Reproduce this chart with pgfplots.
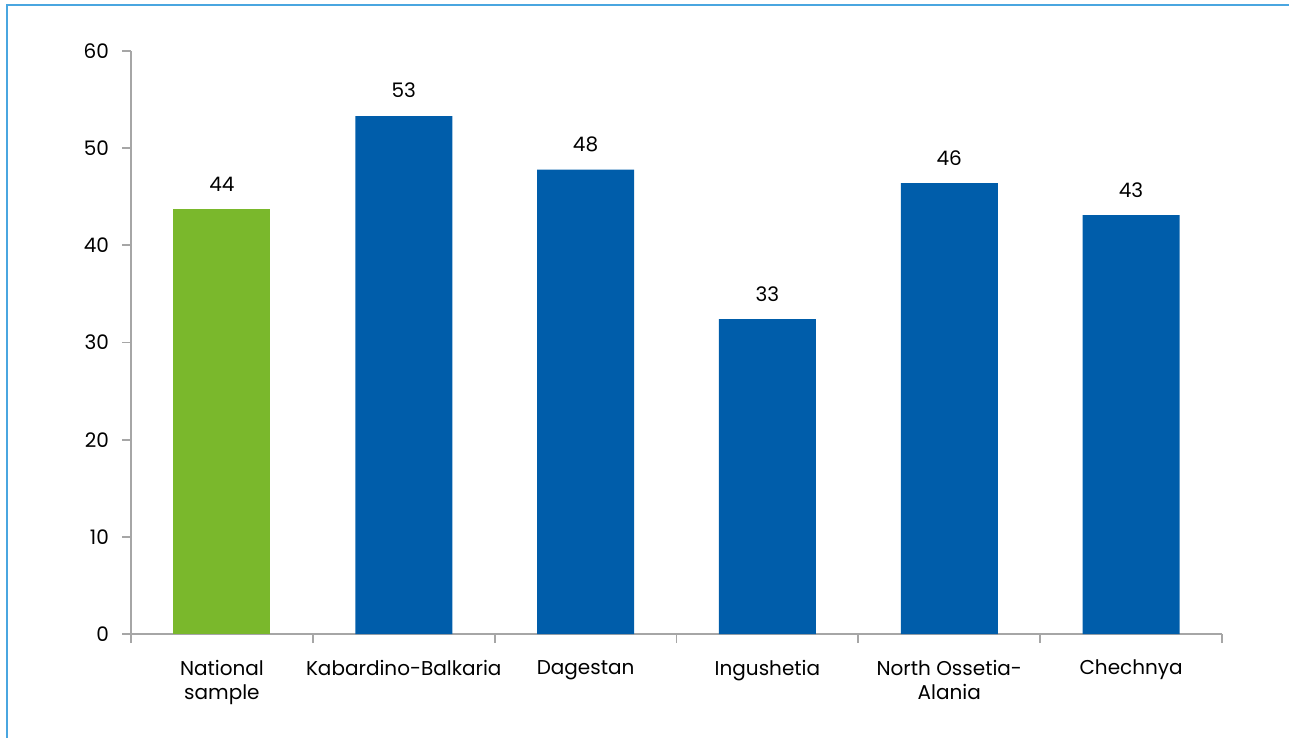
\documentclass[border=0pt]{standalone}
\usepackage{pgfplots}
\pgfplotsset{compat=1.18}
\usepackage{fontspec}
\setmainfont{Poppins}
\definecolor{bargreen}{HTML}{7AB82C}
\definecolor{barblue}{HTML}{005DAA}
\definecolor{framec}{HTML}{4AA6E0}
\definecolor{axgray}{HTML}{A6A6A6}
\begin{document}
\begin{tikzpicture}
\useasboundingbox (0,0) rectangle (644.5pt,369pt);
\draw[framec, line width=1.2pt] (3.5pt,0) -- (3.5pt,366.5pt) -- (644.5pt,366.5pt);
\begin{axis}[
  at={(65.5pt,52pt)}, anchor=south west,
  scale only axis, width=545.5pt, height=291.5pt,
  xmin=-0.5, xmax=5.5, ymin=0, ymax=60,
  ytick={0,10,...,60},
  xtick={0,1,2,3,4,5},
  xticklabels={National\\sample, Kabardino-Balkaria, Dagestan, Ingushetia, North Ossetia-\\Alania, Chechnya},
  minor xtick={-0.5,0.5,...,5.5},
  axis x line*=bottom, axis y line*=left,
  axis line style={axgray, line width=0.9pt},
  tick align=outside,
  major tick length=4.5pt, minor tick length=4.5pt,
  x tick style={draw=none}, minor x tick style={draw=axgray, line width=0.9pt},
  y tick style={axgray, line width=0.9pt},
  every tick label/.append style={font=\fontsize{10}{12}\selectfont, text=black},
  /pgf/number format/assume math mode=true,
  xticklabel style={align=center, anchor=north, yshift=-5pt},
  yticklabel style={xshift=-3pt},
  ybar, bar width=48.5pt, bar shift=0pt,
  nodes near coords,
  point meta=explicit symbolic,
  every node near coord/.append style={font=\fontsize{10}{12}\selectfont, text=black, yshift=5.5pt},
  clip=false,
]
\addplot[fill=bargreen, draw=none] table[meta=lab] {
x y lab
0 43.7 44
};
\addplot[fill=barblue, draw=none] table[meta=lab] {
x y lab
1 53.3 53
2 47.8 48
3 32.4 33
4 46.4 46
5 43.1 43
};
\end{axis}
\end{tikzpicture}
\end{document}
